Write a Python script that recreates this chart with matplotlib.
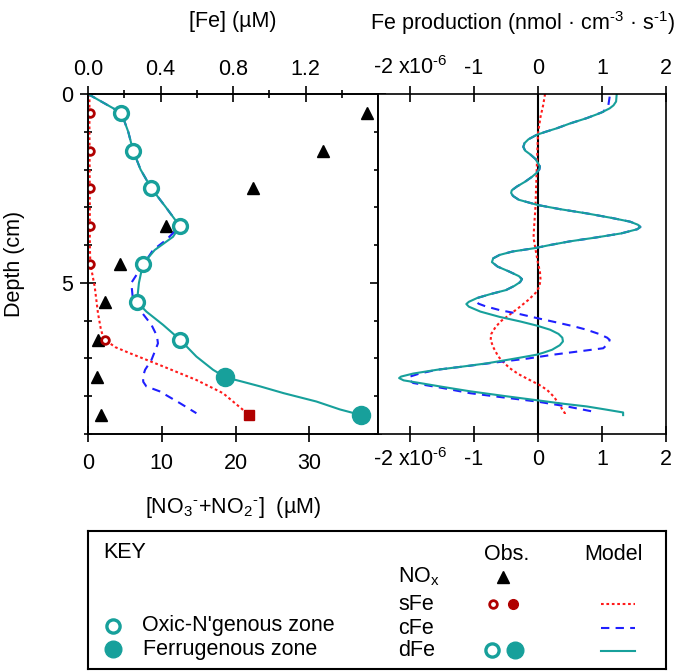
import matplotlib
matplotlib.use('Agg')
import matplotlib.pyplot as plt

plt.rcParams['font.family'] = ['Liberation Sans', 'DejaVu Sans']
plt.rcParams['mathtext.fontset'] = 'custom'
plt.rcParams['mathtext.rm'] = 'Liberation Sans'
plt.rcParams['mathtext.it'] = 'Liberation Sans'
plt.rcParams['axes.unicode_minus'] = False
plt.rcParams['font.size'] = 15.5

TEAL = '#17a09b'
DARKRED = '#b00000'
RED = '#ff1a1a'
BLUE = '#1f1fff'

# observations (depth in cm)
nox_depth = [0.5, 1.5, 2.5, 3.5, 4.5, 5.5, 6.5, 7.5, 8.5]
nox_obs = [37.8, 31.8, 22.3, 10.6, 4.4, 2.3, 1.3, 1.2, 1.7]

dfe_oxic_depth = [0.5, 1.5, 2.5, 3.5, 4.5, 5.5, 6.5]
dfe_oxic = [0.184, 0.249, 0.35, 0.507, 0.303, 0.27, 0.507]
dfe_ferr_depth = [7.5, 8.5]
dfe_ferr = [0.758, 1.508]

sfe_oxic_depth = [0.5, 1.5, 2.5, 3.5, 4.5, 6.5]
sfe_oxic = [0.01, 0.01, 0.01, 0.01, 0.01, 0.092]
sfe_ferr_depth = [8.5]
sfe_ferr = [0.89]

# model concentrations ([Fe] uM)
dfe_mod_depth = [0, 0.5, 1.0, 1.5, 2.0, 2.5, 3.0, 3.5, 3.78, 4.13, 4.5, 5.0, 5.5,
                 5.76, 6.11, 6.5, 6.95, 7.3, 7.5, 7.6, 7.74, 7.92, 8.14, 8.35, 8.5]
dfe_mod = [0.0, 0.184, 0.222, 0.249, 0.29, 0.35, 0.43, 0.507, 0.469, 0.368, 0.303,
           0.281, 0.27, 0.322, 0.414, 0.507, 0.598, 0.69, 0.758, 0.84, 0.95, 1.08,
           1.26, 1.39, 1.508]
cfe_mod_depth = [0, 0.5, 1.0, 1.5, 2.0, 2.5, 3.0, 3.5, 3.86, 4.13, 4.66, 5.0, 5.45,
                 5.71, 6.11, 6.4, 6.6, 6.8, 7.04, 7.3, 7.48, 7.62, 7.74, 7.87, 8.18,
                 8.45]
cfe_mod = [0.0, 0.184, 0.222, 0.249, 0.29, 0.35, 0.43, 0.507, 0.432, 0.359, 0.285,
           0.239, 0.248, 0.285, 0.35, 0.38, 0.386, 0.37, 0.35, 0.315, 0.303, 0.305,
           0.322, 0.395, 0.506, 0.598]
sfe_mod_depth = [0, 1, 2, 3, 4, 4.5, 5.1, 5.8, 6.2, 6.38, 6.5, 6.7, 6.86, 7.21, 7.57,
                 7.92, 8.5]
sfe_mod = [0.008, 0.008, 0.009, 0.01, 0.01, 0.013, 0.037, 0.055, 0.07, 0.08, 0.092,
           0.15, 0.23, 0.414, 0.598, 0.745, 0.89]

# Fe production (x1e-6 nmol cm-3 s-1)
dprod_depth = [0, 0.2, 0.3, 0.38, 0.5, 0.64, 0.78, 0.91, 1.0, 1.08, 1.2, 1.3, 1.4,
               1.5, 1.6, 1.72, 1.83, 1.92, 2.0, 2.1, 2.2, 2.32, 2.45, 2.55, 2.62,
               2.7, 2.8, 2.94, 3.05, 3.16, 3.28, 3.38, 3.46, 3.52, 3.58, 3.69, 3.8,
               3.9, 4.0, 4.08, 4.17, 4.26, 4.35, 4.45, 4.57, 4.7, 4.82, 4.9, 4.98,
               5.08, 5.19, 5.3, 5.4, 5.5, 5.56, 5.63, 5.76, 5.9, 6.02, 6.13, 6.24,
               6.35, 6.45, 6.55, 6.65, 6.77, 6.85, 6.9, 7.0, 7.13, 7.22, 7.3, 7.4,
               7.48, 7.52, 7.58, 7.65, 7.75, 7.87, 8.0, 8.11, 8.2, 8.27, 8.35, 8.43,
               8.5]
dprod = [1.23, 1.22, 1.18, 1.12, 0.98, 0.76, 0.5, 0.29, 0.12, -0.02, -0.15, -0.21,
         -0.23, -0.2, -0.12, -0.04, 0.0, 0.03, 0.02, -0.03, -0.1, -0.2, -0.33, -0.41,
         -0.42, -0.39, -0.3, 0.0, 0.35, 0.76, 1.15, 1.44, 1.56, 1.6, 1.55, 1.3, 0.9,
         0.5, 0.18, -0.05, -0.4, -0.6, -0.7, -0.72, -0.63, -0.45, -0.3, -0.25, -0.28,
         -0.37, -0.5, -0.75, -0.95, -1.08, -1.12, -1.08, -0.9, -0.6, -0.28, -0.02,
         0.19, 0.32, 0.38, 0.39, 0.34, 0.22, 0.08, -0.02, -0.35, -0.8, -1.2, -1.58,
         -1.95, -2.14, -2.17, -2.1, -1.85, -1.5, -1.06, -0.5, 0.0, 0.4, 0.76, 1.05,
         1.33, 1.33]
cprod_depth = [0.07, 0.29, 0.47, 0.64, 0.78, 0.91, 1.0, 1.08, 1.2, 1.3, 1.4, 1.5,
               1.6, 1.72, 1.83, 1.92, 2.0, 2.1, 2.2, 2.32, 2.45, 2.55, 2.62, 2.7,
               2.8, 2.94, 3.05, 3.16, 3.28, 3.38, 3.46, 3.52, 3.58, 3.69, 3.8, 3.9,
               4.0, 4.08, 4.17, 4.26, 4.35, 4.45, 4.57, 4.7, 4.82, 4.9, 4.98, 5.08,
               5.19, 5.3, 5.4, 5.48, 5.55, 5.62, 5.72, 5.82, 5.93, 6.05, 6.15, 6.24,
               6.35, 6.45, 6.51, 6.6, 6.73, 6.8, 6.9, 7.0, 7.08, 7.2, 7.3, 7.4, 7.48,
               7.56, 7.65, 7.78, 7.92, 8.03, 8.14, 8.27, 8.4]
cprod = [1.12, 1.1, 1.02, 0.76, 0.5, 0.29, 0.12, -0.02, -0.15, -0.21, -0.23, -0.2,
         -0.12, -0.04, 0.0, 0.03, 0.02, -0.03, -0.1, -0.2, -0.33, -0.41, -0.42,
         -0.39, -0.3, 0.0, 0.35, 0.76, 1.15, 1.44, 1.56, 1.6, 1.55, 1.3, 0.9, 0.5,
         0.18, -0.05, -0.4, -0.6, -0.7, -0.72, -0.63, -0.45, -0.3, -0.25, -0.28,
         -0.37, -0.5, -0.75, -0.95, -0.97, -0.93, -0.82, -0.6, -0.3, -0.02, 0.3,
         0.56, 0.76, 0.95, 1.08, 1.12, 1.1, 1.02, 0.7, 0.24, -0.15, -0.54, -1.1,
         -1.58, -1.85, -2.0, -2.02, -1.95, -1.5, -1.06, -0.55, -0.02, 0.45, 0.84]
sprod_depth = [0, 0.3, 0.6, 1.04, 2.0, 3.0, 3.5, 3.8, 4.1, 4.48, 4.7, 4.92, 5.1,
               5.27, 5.45, 5.63, 5.85, 6.0, 6.16, 6.35, 6.51, 6.7, 6.95, 7.1, 7.26,
               7.42, 7.57, 7.7, 7.83, 8.0, 8.18, 8.35, 8.45, 8.52]
sprod = [0.11, 0.08, 0.04, 0.0, -0.02, -0.04, -0.06, -0.07, -0.04, 0.0, 0.03, 0.04,
         0.02, -0.04, -0.15, -0.28, -0.45, -0.57, -0.66, -0.73, -0.74, -0.7, -0.62,
         -0.54, -0.44, -0.3, -0.13, 0.02, 0.14, 0.24, 0.32, 0.38, 0.42, 0.42]

fe_ticks = [0.0, 0.4, 0.8, 1.2]
fe_labels = ['0.0', '0.4', '0.8', '1.2']
nox_ticks = [0, 10, 20, 30]
prod_ticks = [-2, -1, 0, 1, 2]
prod_labels = ['-2 x10$^{\\text{-}6}$', '-1', '0', '1', '2']

W, H = 677, 671
fig = plt.figure(figsize=(W / 100, H / 100), dpi=100)
ax1 = fig.add_axes([88 / W, 1 - 434 / H, 290 / W, 340 / H])
ax2 = fig.add_axes([378 / W, 1 - 434 / H, 288 / W, 340 / H])
ax1t = ax1.twiny()

for a in (ax1, ax1t, ax2):
    for s in a.spines.values():
        s.set_linewidth(1.2)

# left panel
ax1.set_xlim(0, 39.3)
ax1.set_ylim(9, 0)
ax1t.set_xlim(0, 1.6)
ax1.set_xticks(nox_ticks)
ax1.set_yticks([0, 5])
ax1.set_yticks(range(0, 10), minor=True)
ax1.tick_params(axis='y', which='both', direction='inout', left=True, right=True,
                width=1.2)
ax1.tick_params(axis='y', which='major', length=11, pad=5)
ax1.tick_params(axis='y', which='minor', length=6)
ax1.tick_params(axis='x', direction='inout', length=11, width=1.2, top=False, pad=8)
ax1t.set_xticks(fe_ticks)
ax1t.set_xticklabels(fe_labels)
ax1t.set_xticks([0.2, 0.6, 1.0, 1.4], minor=True)
ax1t.tick_params(axis='x', which='major', direction='inout', length=11, width=1.2,
                 pad=4.5)
ax1t.tick_params(axis='x', which='minor', direction='inout', length=6, width=1.2)
ax1.set_ylabel('Depth (cm)', labelpad=26)
ax1.set_xlabel('[NO$_3$$^{\\text{-}}$+NO$_2$$^{\\text{-}}$]  (µM)', labelpad=15)
ax1t.set_xlabel('[Fe] (µM)', labelpad=23)

ax1.plot(nox_obs, nox_depth, '^', color='black', ms=8.5, clip_on=False)

ax1t.plot(sfe_mod, sfe_mod_depth, color=RED, lw=1.5, ls=(0, (1.3, 1.3)))
ax1t.plot(cfe_mod, cfe_mod_depth, color=BLUE, lw=1.5, ls=(0, (4, 3)))
ax1t.plot(dfe_mod, dfe_mod_depth, color=TEAL, lw=1.5)
ax1t.plot(sfe_oxic, sfe_oxic_depth, 'o', mfc='white', mec=DARKRED, mew=2, ms=5.5)
ax1t.plot(sfe_ferr, sfe_ferr_depth, 's', color=DARKRED, ms=7)
ax1t.plot(dfe_oxic, dfe_oxic_depth, 'o', mfc='white', mec=TEAL, mew=2.4, ms=10)
ax1t.plot(dfe_ferr, dfe_ferr_depth, 'o', color=TEAL, ms=13, clip_on=False)

# right panel
ax2.set_xlim(-2.5, 2)
ax2.set_ylim(9, 0)
ax2.set_xticks(prod_ticks)
ax2.set_xticklabels(prod_labels)
ax2.set_yticks([])
ax2.tick_params(axis='x', direction='inout', length=11, width=1.2, top=True,
                labeltop=True, bottom=True, labelbottom=True, pad=5)
ax2.axvline(0, color='black', lw=1.5)
ax2.plot(sprod, sprod_depth, color=RED, lw=1.5, ls=(0, (1.3, 1.3)))
ax2.plot(cprod, cprod_depth, color=BLUE, lw=1.5, ls=(0, (4, 3)))
ax2.plot(dprod, dprod_depth, color=TEAL, lw=1.5)
ax2.xaxis.set_label_position('top')
ax2.set_xlabel('Fe production (nmol · cm$^{\\text{-}3}$ · s$^{\\text{-}1}$)',
               labelpad=19)

# key box
ax3 = fig.add_axes([88 / W, 1 - 669 / H, 578 / W, 138 / H])
ax3.set_xlim(0, 578)
ax3.set_ylim(138, 0)
ax3.set_xticks([])
ax3.set_yticks([])
for s in ax3.spines.values():
    s.set_linewidth(1.5)

ax3.text(15, 22, 'KEY', va='center')
ax3.text(419, 23, 'Obs.', ha='center', va='center')
ax3.text(525, 23, 'Model', ha='center', va='center')
rows = [('NO$_\\mathrm{x}$', 46), ('sFe', 73), ('cFe', 97), ('dFe', 119)]
for name, y in rows:
    ax3.text(310, y, name, va='center')
ax3.plot([415], [46], '^', color='black', ms=8.5)
ax3.plot([405], [73], 'o', mfc='white', mec=DARKRED, mew=2, ms=5.5)
ax3.plot([425], [73], 'o', color=DARKRED, ms=7)
ax3.plot([404], [119], 'o', mfc='white', mec=TEAL, mew=2.4, ms=9.5)
ax3.plot([427], [119], 'o', color=TEAL, ms=12)
ax3.plot([513, 547], [73, 73], color=RED, lw=1.5, ls=(0, (1.3, 1.3)))
ax3.plot([513, 547], [97, 97], color=BLUE, lw=1.5, ls=(0, (4, 3)))
ax3.plot([513, 547], [120, 120], color=TEAL, lw=1.5)
ax3.plot([25], [95], 'o', mfc='white', mec=TEAL, mew=2.4, ms=9.5)
ax3.plot([25], [118], 'o', color=TEAL, ms=12)
ax3.text(54, 95, "Oxic-N'genous zone", va='center')
ax3.text(55, 118, 'Ferrugenous zone', va='center')

fig.savefig('out.png', dpi=100)
